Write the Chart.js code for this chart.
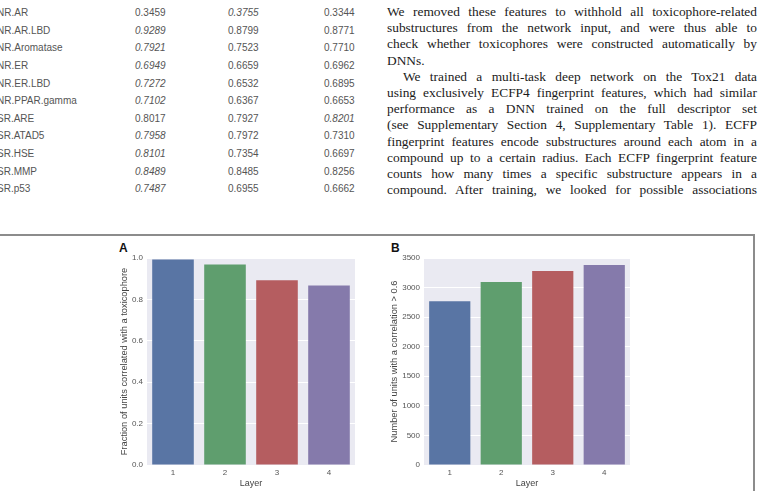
<!DOCTYPE html>
<html>
<head>
<meta charset="utf-8">
<script src="https://cdn.jsdelivr.net/npm/chart.js@4"></script>
<style>
  html, body { margin: 0; padding: 0; background: #fff; }
  body { width: 759px; height: 491px; position: relative; overflow: hidden; }
  .cell { position: absolute; font: 10px "Liberation Sans", Arial, sans-serif; color: #555; white-space: nowrap; }
  .it { font-style: italic; }
  #prose { position: absolute; left: 387px; top: 4px; width: 370px;
    font: 13.4px "Liberation Serif", "Times New Roman", serif; color: #1a1a1a; line-height: 16.2px; }
  #prose div { text-align: justify; text-align-last: justify; white-space: nowrap; }
  #prose div.last { text-align-last: left; }
  #prose div.indent { text-indent: 16px; }
  .rule-h { position: absolute; left: 0; top: 234px; width: 754px; height: 1.5px; background: #8c8c8c; }
  .rule-v { position: absolute; left: 753px; top: 234px; width: 1.5px; height: 260px; background: #8c8c8c; }
  .panel { position: absolute; font: bold 12px "Liberation Sans", Arial, sans-serif; color: #111; }
  canvas { position: absolute; }
</style>
</head>
<body>
<div id="table"></div>
<div id="prose"></div>
<div class="rule-h"></div>
<div class="rule-v"></div>
<div class="panel" style="left:119px; top:241px;">A</div>
<div class="panel" style="left:391px; top:241px;">B</div>
<canvas id="chart-a" width="265" height="251" style="left:100px; top:240px;"></canvas>
<canvas id="chart-b" width="265" height="251" style="left:375px; top:240px;"></canvas>
<script>
// table rows shown above the figure
const assays = ["NR.AR", "NR.AR.LBD", "NR.Aromatase", "NR.ER", "NR.ER.LBD", "NR.PPAR.gamma",
  "SR.ARE", "SR.ATAD5", "SR.HSE", "SR.MMP", "SR.p53"];
const colOne = ["0.3459", "0.9289", "0.7921", "0.6949", "0.7272", "0.7102", "0.8017", "0.7958", "0.8101", "0.8489", "0.7487"];
const colTwo = ["0.3755", "0.8799", "0.7523", "0.6659", "0.6532", "0.6367", "0.7927", "0.7972", "0.7354", "0.8485", "0.6955"];
const colThree = ["0.3344", "0.8771", "0.7710", "0.6962", "0.6895", "0.6653", "0.8201", "0.7310", "0.6697", "0.8256", "0.6662"];
// which column is set in italics for each row (1..3)
const italicCol = [2, 1, 1, 1, 1, 1, 3, 1, 1, 1, 1];

const proseLines = [
  "We removed these features to withhold all toxicophore-related",
  "substructures from the network input, and were thus able to",
  "check whether toxicophores were constructed automatically by",
  "DNNs.",
  "We trained a multi-task deep network on the Tox21 data",
  "using exclusively ECFP4 fingerprint features, which had similar",
  "performance as a DNN trained on the full descriptor set",
  "(see Supplementary Section 4, Supplementary Table 1). ECFP",
  "fingerprint features encode substructures around each atom in a",
  "compound up to a certain radius. Each ECFP fingerprint feature",
  "counts how many times a specific substructure appears in a",
  "compound. After training, we looked for possible associations",
];

// figure data
const layers = ["1", "2", "3", "4"];
const fractionCorrelated = [0.993, 0.969, 0.892, 0.867];
const unitsAbove06 = [2770, 3095, 3280, 3380];
const barColors = ["#5975a4", "#5f9e6e", "#b55d60", "#857aab"];

const tableBox = document.getElementById("table");
const colX = [-3, 135, 228, 324];
assays.forEach((name, i) => {
  const y = 4.2 + i * 17.6;
  const values = [name, colOne[i], colTwo[i], colThree[i]];
  values.forEach((text, c) => {
    const cell = document.createElement("div");
    cell.className = "cell" + (c > 0 && italicCol[i] === c ? " it" : "");
    cell.style.left = colX[c] + "px";
    cell.style.top = y + "px";
    cell.style.lineHeight = "17.6px";
    cell.textContent = text;
    tableBox.appendChild(cell);
  });
});

const prose = document.getElementById("prose");
proseLines.forEach((line, i) => {
  const div = document.createElement("div");
  div.textContent = line;
  if (i === 3) div.className = "last";
  if (i === 4) div.className = "indent";
  prose.appendChild(div);
});

const plotBackground = {
  id: "plotBackground",
  beforeDraw(chart) {
    const { ctx, chartArea } = chart;
    ctx.save();
    ctx.fillStyle = "#eaeaf2";
    ctx.fillRect(chartArea.left, chartArea.top, chartArea.width, chartArea.height);
    ctx.restore();
  },
};

const fontFamily = '"Liberation Sans", Arial, sans-serif';

function makeBarChart(canvasId, values, yTitle, yOpts, padLeft, yWidth) {
  return new Chart(document.getElementById(canvasId), {
    type: "bar",
    data: {
      labels: layers,
      datasets: [
        {
          data: values,
          backgroundColor: barColors,
          borderWidth: 0,
          categoryPercentage: 1,
          barPercentage: 0.8,
        },
      ],
    },
    options: {
      responsive: false,
      animation: false,
      layout: { padding: { top: 18, right: 10, bottom: 0, left: padLeft } },
      scales: {
        x: {
          grid: { display: false, drawTicks: false },
          border: { display: false },
          ticks: { color: "#555", padding: 3, font: { family: fontFamily, size: 8 } },
          title: {
            display: true,
            text: "Layer",
            color: "#444",
            padding: { top: 0, bottom: 2 },
            font: { family: fontFamily, size: 9 },
          },
          afterFit: (scale) => { scale.height = 26; },
        },
        y: {
          ...yOpts,
          grid: { color: "#ffffff", lineWidth: 1, drawTicks: false },
          border: { display: false },
          ticks: {
            ...yOpts.ticks,
            color: "#555",
            padding: 4,
            font: { family: fontFamily, size: 8 },
          },
          title: {
            display: true,
            text: yTitle,
            color: "#444",
            padding: { top: 0, bottom: 0 },
            font: { family: fontFamily, size: 9.3 },
          },
          afterFit: (scale) => { scale.width = yWidth; },
        },
      },
      plugins: {
        legend: { display: false },
        tooltip: { enabled: false },
      },
    },
    plugins: [plotBackground],
  });
}

makeBarChart("chart-a", fractionCorrelated, "Fraction of units correlated with a toxicophore",
  { min: 0, max: 1, ticks: { stepSize: 0.2, callback: (v) => Number(v).toFixed(1) } }, 19, 28);
makeBarChart("chart-b", unitsAbove06, "Number of units with a correlation > 0.6",
  { min: 0, max: 3500, ticks: { stepSize: 500, callback: (v) => String(v) } }, 14, 35);
</script>
</body>
</html>
